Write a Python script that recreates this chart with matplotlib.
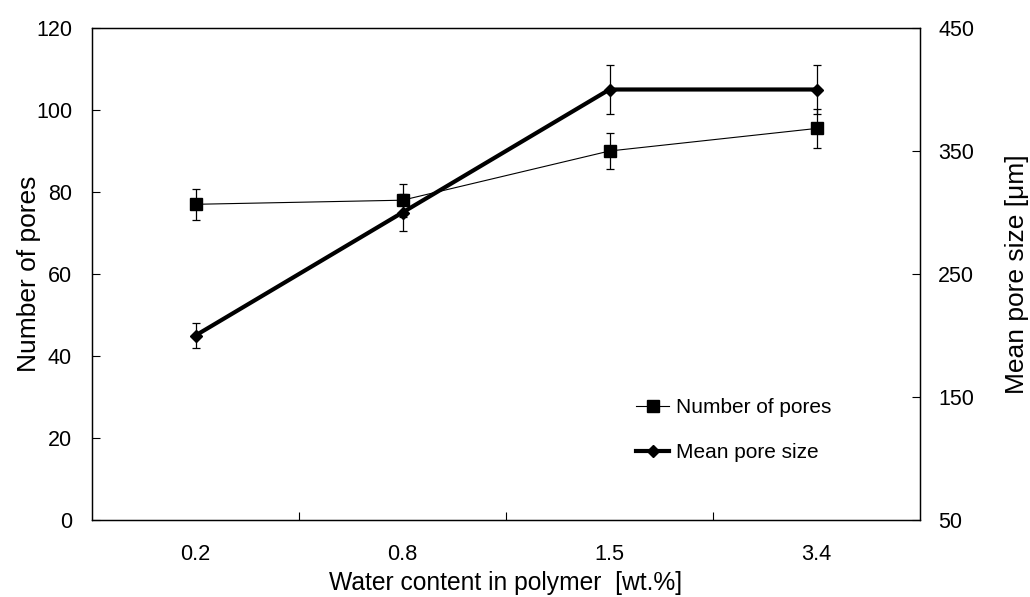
import matplotlib
matplotlib.use("Agg")
import matplotlib.pyplot as plt
from matplotlib.ticker import FixedLocator, NullFormatter, FixedFormatter

plt.rcParams['font.family'] = ['Liberation Sans', 'DejaVu Sans']

# Water content categories [wt.%]
water_content = ["0.2", "0.8", "1.5", "3.4"]

# Number of pores (left axis) with error
n_pores = [77.0, 78.0, 90.0, 95.5]
n_pores_err = [3.8, 4.0, 4.4, 4.7]

# Mean pore size [um] (right axis) with error
pore_size = [200, 300, 400, 400]
pore_size_err = [10, 15, 20, 20]

fig = plt.figure(figsize=(10.30, 5.97), dpi=100)
ax = fig.add_axes([92 / 1030, 1 - 520 / 597, 828 / 1030, 492 / 597])
ax2 = ax.twinx()

x = list(range(len(water_content)))

c1 = ax.errorbar(x, n_pores, yerr=n_pores_err, color='black', lw=0.8,
                 marker='s', ms=8.3, elinewidth=0.9, capsize=2.8, capthick=0.9,
                 zorder=3)
c2 = ax2.errorbar(x, pore_size, yerr=pore_size_err, color='black', lw=3.0,
                  marker='D', ms=6.0, elinewidth=0.9, capsize=2.8, capthick=0.9,
                  zorder=3)

ax.set_xlim(-0.5, len(water_content) - 0.5)
ax.set_ylim(0, 120)
ax2.set_ylim(50, 450)
ax.set_yticks(range(0, 121, 20))
ax2.set_yticks(range(50, 451, 100))

# category labels centred, tick marks on category boundaries
ax.xaxis.set_major_locator(FixedLocator([i + 0.5 for i in range(len(water_content) - 1)]))
ax.xaxis.set_major_formatter(NullFormatter())
ax.xaxis.set_minor_locator(FixedLocator(x))
ax.xaxis.set_minor_formatter(FixedFormatter(water_content))
ax.tick_params(axis='x', which='major', direction='in', length=6, width=0.8)
ax.tick_params(axis='x', which='minor', length=0, pad=17, labelsize=15.7)

ax.tick_params(axis='y', direction='in', length=5.8, width=0.8, pad=14.4, labelsize=15.5)
ax2.tick_params(axis='y', direction='in', length=5.8, width=0.8, pad=13, labelsize=15.5)

for a in (ax, ax2):
    for s in a.spines.values():
        s.set_linewidth(0.9)

ax.set_xlabel("Water content in polymer  [wt.%]", fontsize=17.7, labelpad=4.5)
ax.set_ylabel("Number of pores", fontsize=19, labelpad=-4)
ax2.set_ylabel("Mean pore size [μm]", fontsize=19, labelpad=22)

handles = [c1.lines[0], c2.lines[0]]
labels = ["Number of pores", "Mean pore size"]
ax2.legend(handles, labels, loc='upper left', bbox_to_anchor=(0.647, 0.265),
           frameon=False, fontsize=15, handlelength=1.6, handletextpad=0.3,
           labelspacing=1.26, borderaxespad=0)

fig.savefig("out.png", dpi=100)
